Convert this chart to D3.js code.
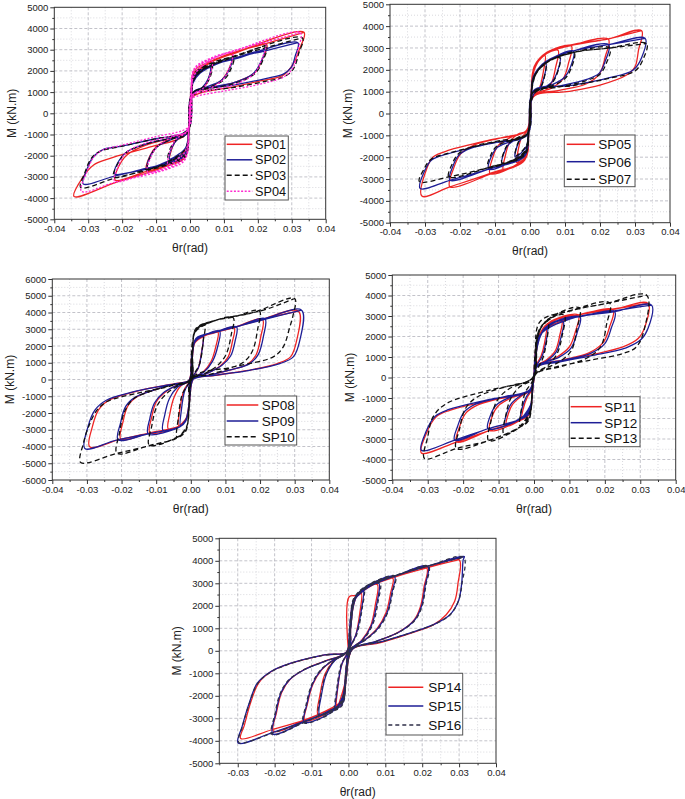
<!DOCTYPE html>
<html><head><meta charset="utf-8">
<script src="https://cdn.jsdelivr.net/npm/d3@7"></script>
<style>body{margin:0;background:#fff}svg{display:block}</style>
</head><body>
<svg id="chart" width="685" height="799"></svg>
<script>
// ---------------- DATA (θr in rad, M in kN.m) ----------------
const thetaTicks = [-0.04,-0.03,-0.02,-0.01,0,0.01,0.02,0.03,0.04];
const thetaTicks5 = [-0.03,-0.02,-0.01,0,0.01,0.02,0.03,0.04];
const mTicks5 = [-5000,-4000,-3000,-2000,-1000,0,1000,2000,3000,4000,5000];
const mTicks6 = [-6000,-5000,-4000,-3000,-2000,-1000,0,1000,2000,3000,4000,5000,6000];
const seriesNames = ["SP01","SP02","SP03","SP04","SP05","SP06","SP07","SP08","SP09","SP10","SP11","SP12","SP13","SP14","SP15","SP16"];

const sp01 = [[0,0],[.0008,1500],[.003,2050],[.0062,2350],[.0056,1700],[.004,1200],[.0008,900],[-.0003,-700],[-.0012,-1700],[-.0035,-2050],[-.006,-2250],[-.0054,-1700],[-.004,-1250],[-.0008,-900],[.0003,700],[.0012,1800],[.005,2300],
[.0125,2750],[.0115,2100],[.0095,1600],[.005,1150],[.001,950],[-.0003,-800],[-.0012,-1900],[-.005,-2300],[-.0128,-2650],[-.0118,-2000],[-.0098,-1550],[-.005,-1150],[-.001,-900],[.0003,800],[.0012,1900],[.006,2400],[.0125,2800],
[.0226,3250],[.0212,2500],[.019,1900],[.013,1450],[.005,1150],[.001,950],[-.0003,-800],[-.0012,-2000],[-.006,-2450],[-.013,-2750],[-.0221,-3150],[-.021,-2500],[-.0185,-1950],[-.013,-1500],[-.005,-1150],[-.001,-950],[.0003,800],[.0012,2000],[.006,2450],[.013,2850],
[.0336,3820],[.0322,3000],[.0305,2350],[.0275,1800],[.02,1500],[.0128,1250],[.003,950],[.0003,700],[-.0004,-900],[-.0015,-2100],[-.006,-2450],[-.0216,-3250],[-.0342,-3920],[-.0315,-3000],[-.0285,-2450],[-.024,-2150],[-.012,-1600],[-.002,-1100],[0,-600],[.0006,1200],[.0015,1900],[.009,2650],[.0226,3300],[.0336,3820]];

const sp02 = [[0,0],[.0008,1400],[.003,1900],[.006,2150],[.0053,1600],[.0035,1200],[.0008,950],[-.0003,-700],[-.0012,-1600],[-.0035,-1950],[-.006,-2150],[-.0053,-1600],[-.0035,-1200],[-.0008,-950],[.0003,700],[.0012,1600],[.005,2100],
[.0122,2500],[.0112,1950],[.0092,1550],[.005,1250],[.001,1000],[-.0003,-800],[-.0012,-1800],[-.005,-2150],[-.0125,-2550],[-.0115,-1950],[-.0095,-1550],[-.005,-1200],[-.001,-950],[.0003,800],[.0012,1750],[.006,2250],[.0122,2550],
[.0218,2920],[.0205,2300],[.0185,1850],[.013,1450],[.005,1200],[.001,1000],[-.0003,-800],[-.0012,-1900],[-.006,-2300],[-.013,-2600],[-.0222,-2850],[-.021,-2250],[-.0185,-1800],[-.013,-1450],[-.005,-1150],[-.001,-950],[.0003,800],[.0012,1800],[.006,2250],[.013,2550],
[.0318,3330],[.031,2700],[.0298,2150],[.0275,1850],[.0226,1650],[.0128,1330],[.003,1100],[.0003,800],[-.0004,-900],[-.0015,-2000],[-.006,-2350],[-.022,-2950],[-.0315,-3330],[-.0305,-2700],[-.0285,-2050],[-.0255,-1700],[-.02,-1550],[-.01,-1200],[-.002,-950],[0,-600],[.0006,1100],[.0015,1750],[.01,2450],[.0222,2950],[.0318,3330]];

const sp03 = [[0,0],[.0008,1450],[.003,1950],[.0065,2250],[.0058,1650],[.004,1250],[.0008,950],[-.0003,-750],[-.0012,-1650],[-.0035,-2000],[-.0065,-2250],[-.0058,-1650],[-.004,-1250],[-.0008,-950],[.0003,750],[.0012,1650],[.005,2150],
[.0128,2600],[.0118,2000],[.0098,1550],[.005,1200],[.001,1000],[-.0003,-800],[-.0012,-1850],[-.005,-2200],[-.0125,-2600],[-.0115,-2000],[-.0095,-1550],[-.005,-1200],[-.001,-950],[.0003,800],[.0012,1800],[.006,2300],[.0128,2650],
[.0225,3100],[.0212,2400],[.019,1850],[.013,1400],[.005,1150],[.001,1000],[-.0003,-800],[-.0012,-1950],[-.006,-2350],[-.013,-2650],[-.0225,-3000],[-.0212,-2350],[-.0188,-1850],[-.013,-1450],[-.005,-1150],[-.001,-950],[.0003,800],[.0012,1850],[.006,2350],[.013,2700],
[.0331,3560],[.032,2800],[.0305,2100],[.028,1750],[.022,1500],[.012,1200],[.003,1000],[.0003,750],[-.0004,-900],[-.0015,-2050],[-.006,-2400],[-.022,-3050],[-.0322,-3500],[-.031,-2800],[-.029,-2100],[-.0265,-1800],[-.02,-1550],[-.01,-1200],[-.002,-950],[0,-600],[.0006,1150],[.0015,1800],[.012,2600],[.0225,3100],[.0331,3560]];

const sp04 = [[0,0],[.0008,1600],[.003,2150],[.0065,2450],[.0058,1750],[.004,1200],[.0008,850],[-.0003,-700],[-.0012,-1750],[-.0035,-2150],[-.0065,-2400],[-.0058,-1750],[-.004,-1200],[-.0008,-850],[.0003,700],[.0012,1800],[.005,2400],
[.0125,2850],[.0115,2100],[.0095,1550],[.005,1100],[.001,900],[-.0003,-750],[-.0012,-1950],[-.005,-2400],[-.0125,-2750],[-.0115,-2050],[-.0095,-1550],[-.005,-1100],[-.001,-850],[.0003,750],[.0012,2000],[.006,2550],[.0125,2900],
[.0222,3300],[.021,2500],[.0188,1850],[.013,1350],[.005,1050],[.001,850],[-.0003,-750],[-.0012,-2050],[-.006,-2550],[-.013,-2850],[-.0222,-3200],[-.021,-2450],[-.0188,-1850],[-.013,-1400],[-.005,-1050],[-.001,-850],[.0003,750],[.0012,2100],[.006,2600],[.013,2950],
[.0325,3800],[.0318,3000],[.0305,2200],[.028,1750],[.02,1350],[.01,1050],[.002,800],[.0003,650],[-.0004,-850],[-.0015,-2200],[-.006,-2600],[-.022,-3250],[-.032,-3680],[-.0305,-2800],[-.0285,-2100],[-.026,-1750],[-.02,-1500],[-.01,-1100],[-.002,-800],[0,-550],[.0006,1250],[.0015,2100],[.01,2800],[.0222,3350],[.0325,3800]];

const sp05 = [[0,0],[.0008,1700],[.002,2300],[.0043,2650],[.0038,1900],[.0025,1100],[.0006,800],[-.0003,-600],[-.001,-1700],[-.0038,-2250],[-.0034,-1700],[-.0024,-1100],[-.0006,-750],[.0003,600],[.001,1900],[.0035,2600],
[.008,2900],[.0073,2100],[.006,1350],[.0035,950],[.0008,800],[-.0003,-650],[-.0012,-1950],[-.004,-2350],[-.0076,-2600],[-.007,-1900],[-.0058,-1300],[-.0035,-950],[-.0008,-780],[.0003,650],[.0012,2050],[.0045,2750],
[.0118,3100],[.011,2300],[.0095,1600],[.006,1150],[.001,850],[-.0003,-700],[-.0012,-2000],[-.005,-2450],[-.0114,-2750],[-.0106,-2000],[-.009,-1450],[-.005,-1050],[-.001,-800],[.0003,700],[.0012,2100],[.005,2780],[.0118,3120],
[.0224,3400],[.0215,2600],[.0198,1800],[.016,1350],[.008,1050],[.001,820],[-.0003,-700],[-.0015,-2130],[-.0114,-2780],[-.0229,-3350],[-.0218,-2500],[-.0198,-1850],[-.016,-1450],[-.008,-1100],[-.001,-780],[.0003,700],[.0012,2150],[.0048,2800],[.0114,3130],[.0224,3420],
[.0319,3790],[.031,2900],[.030,2140],[.0276,1760],[.02,1300],[.0105,1000],[.001,770],[-.0003,-650],[-.0019,-2130],[-.0114,-2740],[-.0229,-3360],[-.0309,-3780],[-.0293,-2440],[-.0276,-1980],[-.0229,-1670],[-.0114,-1210],[-.0009,-760],[.0003,600],[.001,2000],[.0048,2760],[.0114,3100],[.0224,3420],[.0319,3790]];

const sp06 = [[0,0],[.0008,1400],[.002,1950],[.0045,2300],[.004,1650],[.0027,1150],[.0006,950],[-.0003,-750],[-.001,-1500],[-.0042,-2000],[-.0037,-1500],[-.0025,-1150],[-.0006,-950],[.0003,750],[.001,1600],[.0035,2250],
[.0085,2600],[.0078,1900],[.0063,1450],[.0035,1150],[.0008,1000],[-.0003,-800],[-.0012,-1700],[-.004,-2100],[-.008,-2300],[-.0073,-1750],[-.006,-1400],[-.0035,-1150],[-.0008,-1000],[.0003,800],[.0012,1700],[.0045,2350],
[.0124,2850],[.0115,2100],[.0098,1650],[.006,1300],[.001,1050],[-.0003,-850],[-.0012,-1800],[-.005,-2200],[-.0118,-2550],[-.011,-1950],[-.0093,-1550],[-.005,-1250],[-.001,-1000],[.0003,850],[.0012,1750],[.005,2400],[.0124,2870],
[.0225,3150],[.0215,2400],[.0198,1850],[.016,1550],[.008,1250],[.001,1020],[-.0003,-850],[-.0015,-1950],[-.0114,-2520],[-.0229,-3050],[-.022,-2400],[-.0203,-1900],[-.017,-1600],[-.009,-1300],[-.001,-1000],[.0003,850],[.0012,1750],[.0045,2380],[.0124,2870],[.0225,3150],
[.0329,3440],[.032,2600],[.0295,1990],[.0219,1610],[.0124,1300],[.0016,1000],[-.0003,-800],[-.002,-1950],[-.0114,-2520],[-.0229,-3060],[-.0314,-3430],[-.030,-2590],[-.0281,-2130],[-.0229,-1820],[-.0114,-1370],[-.0009,-990],[.0003,800],[.001,1700],[.0045,2380],[.0124,2870],[.0225,3150],[.0329,3440]];

const sp07 = [[0,0],[.0008,1350],[.002,1900],[.0045,2250],[.004,1600],[.0027,1100],[.0006,900],[-.0003,-700],[-.001,-1450],[-.0042,-1950],[-.0037,-1450],[-.0025,-1100],[-.0006,-900],[.0003,700],[.001,1550],[.0035,2200],
[.0085,2550],[.0078,1850],[.0063,1400],[.0035,1100],[.0008,950],[-.0003,-750],[-.0012,-1650],[-.004,-2050],[-.008,-2250],[-.0073,-1700],[-.006,-1350],[-.0035,-1100],[-.0008,-950],[.0003,750],[.0012,1650],[.0045,2300],
[.0126,2780],[.0117,2050],[.01,1600],[.006,1250],[.001,1000],[-.0003,-800],[-.0012,-1750],[-.005,-2150],[-.012,-2450],[-.0112,-1900],[-.0095,-1500],[-.005,-1200],[-.001,-950],[.0003,800],[.0012,1700],[.005,2350],[.0126,2800],
[.0228,3000],[.0218,2300],[.02,1800],[.016,1500],[.008,1200],[.001,980],[-.0003,-800],[-.0015,-1900],[-.0114,-2450],[-.0232,-2900],[-.0222,-2300],[-.0205,-1850],[-.017,-1550],[-.009,-1250],[-.001,-970],[.0003,800],[.0012,1700],[.0045,2330],[.0126,2800],[.0228,3000],
[.0333,3200],[.0325,2550],[.030,1950],[.0222,1600],[.0124,1280],[.0016,980],[-.0003,-780],[-.002,-1900],[-.0114,-2450],[-.0232,-2900],[-.0316,-3120],[-.0303,-2550],[-.0283,-2100],[-.0229,-1800],[-.0114,-1350],[-.0009,-970],[.0003,780],[.001,1650],[.0045,2330],[.0126,2800],[.0228,3000],[.0333,3200]];

const sp08 = [[0,0],[.0005,1800],[.0015,2300],[.0035,2550],[.0031,1650],[.0021,650],[.0003,50],[-.0004,-1200],[-.0012,-2250],[-.0035,-2750],[-.0031,-1700],[-.002,-650],[-.0003,-50],[.0004,1200],[.0012,2200],[.004,2600],
[.0078,2850],[.0072,1950],[.0058,1050],[.0035,430],[.0005,50],[-.0004,-1300],[-.0015,-2400],[-.0035,-2800],[-.0065,-2950],[-.006,-2000],[-.0048,-1050],[-.003,-400],[-.0005,-50],[.0004,1300],[.0015,2350],[.007,2800],
[.0125,3100],[.012,2250],[.0108,1350],[.0085,800],[.0045,350],[.0008,50],[-.0004,-1300],[-.0015,-2450],[-.0035,-2800],[-.0118,-3180],[-.0113,-2250],[-.01,-1350],[-.0075,-780],[-.004,-330],[-.0005,-40],[.0004,1300],[.0015,2400],[.007,2800],[.0125,3100],
[.0207,3600],[.0202,2550],[.0188,1450],[.0163,900],[.0115,570],[.005,240],[0,0],[-.0004,-1300],[-.0015,-2450],[-.0035,-2800],[-.0118,-3180],[-.0202,-3560],[-.0196,-2550],[-.0181,-1550],[-.0153,-1000],[-.0105,-620],[-.005,-270],[0,0],[.0004,1300],[.0015,2400],[.007,2800],[.0125,3100],[.0207,3600],
[.0311,4080],[.0306,2350],[.0288,1350],[.025,950],[.0165,540],[.0072,250],[.0002,-30],[-.0004,-1300],[-.0015,-2450],[-.0035,-2800],[-.0118,-3180],[-.0205,-3580],[-.0292,-4020],[-.0284,-2800],[-.0266,-1800],[-.0235,-1220],[-.016,-720],[-.007,-330],[0,-30],[.0004,1300],[.0015,2400],[.007,2800],[.0125,3100],[.0207,3600],[.0311,4080]];

const sp09 = [[0,0],[.0005,1800],[.0015,2350],[.0035,2600],[.0032,1700],[.0022,700],[.0003,50],[-.0004,-1200],[-.0012,-2300],[-.003,-2750],[-.0027,-1800],[-.0018,-700],[-.0003,-50],[.0004,1200],[.0012,2250],[.004,2650],
[.0083,2900],[.0078,2000],[.0063,1100],[.0038,450],[.0005,50],[-.0004,-1300],[-.0015,-2450],[-.0032,-2830],[-.008,-3050],[-.0075,-2100],[-.0062,-1150],[-.0038,-450],[-.0005,-50],[.0004,1300],[.0015,2400],[.0074,2850],
[.0132,3140],[.0128,2300],[.0115,1400],[.009,850],[.005,400],[.0008,50],[-.0004,-1300],[-.0015,-2500],[-.0032,-2830],[-.0123,-3250],[-.0118,-2300],[-.0105,-1400],[-.008,-800],[-.004,-350],[-.0005,-40],[.0004,1300],[.0015,2450],[.0074,2850],[.0132,3140],
[.0214,3640],[.021,2600],[.0195,1500],[.017,950],[.012,600],[.005,250],[0,0],[-.0004,-1300],[-.0015,-2500],[-.0032,-2830],[-.0118,-3220],[-.021,-3600],[-.0203,-2600],[-.0188,-1600],[-.016,-1050],[-.011,-650],[-.005,-280],[0,0],[.0004,1300],[.0015,2450],[.0074,2850],[.0132,3150],[.0214,3640],
[.032,4140],[.0315,2350],[.0296,1350],[.0257,950],[.017,550],[.0074,260],[.0002,-40],[-.0004,-1300],[-.0015,-2500],[-.0032,-2830],[-.0118,-3220],[-.0215,-3620],[-.0306,-4120],[-.0297,-2830],[-.0277,-1830],[-.0244,-1240],[-.0167,-740],[-.007,-340],[0,-40],[.0004,1300],[.0015,2450],[.0074,2850],[.0132,3150],[.0219,3620],[.032,4140]];

const sp10 = [[0,0],[.0005,2300],[.0015,2900],[.004,3250],[.0036,2300],[.0025,900],[.0003,80],[-.0004,-1500],[-.0012,-2800],[-.004,-3450],[-.0036,-2300],[-.0025,-900],[-.0003,-80],[.0004,1500],[.0012,2800],[.0045,3300],
[.0122,3700],[.0117,2700],[.0102,1500],[.0078,850],[.004,350],[.0005,60],[-.0005,-1600],[-.0015,-3000],[-.0045,-3500],[-.012,-3920],[-.0113,-2800],[-.0098,-1600],[-.0073,-900],[-.0038,-380],[-.0004,-50],[.0005,1600],[.0015,2950],[.0074,3540],[.0122,3720],
[.0198,4100],[.0193,3000],[.0178,1700],[.0153,1050],[.011,650],[.005,280],[0,10],[-.0005,-1600],[-.0015,-3050],[-.0045,-3520],[-.0118,-3930],[-.0213,-4400],[-.0206,-3200],[-.0191,-1900],[-.0165,-1150],[-.0115,-700],[-.005,-300],[0,0],[.0005,1600],[.0015,3000],[.0074,3550],[.017,3940],[.0198,4120],
[.030,4840],[.0295,3800],[.0286,3140],[.0267,1950],[.0238,1350],[.0122,750],[.0007,155],[-.0005,-1600],[-.0015,-3100],[-.0045,-3550],[-.0118,-3950],[-.0215,-4420],[-.0318,-4950],[-.031,-3800],[-.0295,-2800],[-.027,-1800],[-.024,-1300],[-.015,-800],[-.006,-400],[0,0],[.0005,1700],[.0015,3050],[.0074,3550],[.017,3950],[.0219,4200],[.030,4840]];

const sp11 = [[0,0],[.0005,1400],[.0015,2100],[.0035,2550],[.003,1700],[.002,1050],[.0005,550],[-.0003,-450],[-.001,-1400],[-.0035,-2050],[-.003,-1500],[-.002,-1000],[-.0005,-550],[.0003,450],[.001,1600],[.003,2500],
[.0078,2850],[.0072,2000],[.006,1300],[.0035,850],[.0007,550],[-.0003,-500],[-.0012,-1600],[-.004,-2080],[-.0078,-2350],[-.0072,-1750],[-.006,-1300],[-.0035,-900],[-.0008,-600],[.0003,500],[.0012,1800],[.004,2650],
[.0125,3050],[.0117,2250],[.01,1500],[.0065,1000],[.0007,560],[-.0003,-550],[-.0014,-1700],[-.004,-2100],[-.0125,-2580],[-.0118,-1900],[-.0102,-1400],[-.0065,-1000],[-.0012,-620],[.0003,520],[.0014,1950],[.005,2750],[.0125,3060],
[.0223,3300],[.0213,2450],[.0195,1700],[.0155,1200],[.008,850],[.0007,540],[-.0003,-550],[-.0015,-1800],[-.004,-2100],[-.0125,-2580],[-.0219,-3140],[-.021,-2400],[-.0193,-1750],[-.016,-1350],[-.008,-950],[-.0012,-620],[.0003,520],[.0015,2050],[.006,2800],[.0125,3060],[.0223,3320],
[.0322,3610],[.0313,2470],[.0294,1900],[.0251,1490],[.0157,1090],[.0063,760],[.0007,520],[-.0003,-550],[-.0015,-1850],[-.004,-2100],[-.0125,-2580],[-.0219,-3150],[-.0318,-3680],[-.0304,-2730],[-.0276,-1920],[-.0238,-1600],[-.0125,-1110],[-.0012,-620],[.0003,500],[.0016,2100],[.011,2960],[.0204,3280],[.0322,3610]];

const sp12 = [[0,0],[.0005,1350],[.0015,2000],[.0038,2450],[.0033,1650],[.0022,1000],[.0005,500],[-.0003,-450],[-.001,-1350],[-.0038,-2000],[-.0033,-1450],[-.0022,-950],[-.0005,-500],[.0003,450],[.001,1550],[.003,2400],
[.0082,2750],[.0076,1950],[.0063,1250],[.0037,820],[.0007,520],[-.0003,-500],[-.0012,-1550],[-.004,-2000],[-.0082,-2300],[-.0076,-1700],[-.0063,-1250],[-.0037,-870],[-.0008,-580],[.0003,500],[.0012,1750],[.004,2550],
[.013,2950],[.0122,2200],[.0105,1450],[.007,980],[.0007,540],[-.0003,-530],[-.0014,-1650],[-.004,-2050],[-.013,-2500],[-.0123,-1850],[-.0107,-1350],[-.007,-980],[-.0012,-600],[.0003,500],[.0014,1900],[.005,2650],[.013,2970],
[.0228,3200],[.0218,2400],[.02,1650],[.016,1180],[.008,830],[.0007,520],[-.0003,-530],[-.0015,-1750],[-.004,-2050],[-.013,-2500],[-.0224,-3050],[-.0215,-2350],[-.0198,-1700],[-.0165,-1300],[-.008,-920],[-.0012,-600],[.0003,500],[.0015,2000],[.006,2700],[.013,2980],[.0228,3220],
[.0332,3530],[.0322,2400],[.0302,1850],[.026,1450],[.016,1060],[.0065,740],[.0007,500],[-.0003,-530],[-.0015,-1800],[-.004,-2050],[-.013,-2500],[-.0224,-3060],[-.0318,-3550],[-.0305,-2650],[-.0278,-1880],[-.024,-1560],[-.0128,-1080],[-.0012,-600],[.0003,480],[.0016,2050],[.011,2900],[.0208,3200],[.0332,3530]];

const sp13 = [[0,0],[.0005,1600],[.0015,2300],[.004,2750],[.0035,1700],[.0024,900],[.0005,250],[-.0003,-300],[-.001,-1600],[-.004,-2350],[-.0035,-1500],[-.0024,-700],[-.0005,-200],[.0003,300],[.001,1900],[.003,2700],
[.0085,3050],[.0079,2000],[.0065,1150],[.004,600],[.0007,220],[-.0003,-250],[-.0012,-1800],[-.004,-2420],[-.0085,-2750],[-.0079,-1800],[-.0065,-1000],[-.004,-450],[-.0008,-150],[.0003,250],[.0012,2100],[.004,2850],
[.0128,3400],[.0121,2350],[.0105,1300],[.007,750],[.0007,210],[-.0003,-250],[-.0014,-1950],[-.004,-2420],[-.0128,-3080],[-.0121,-2100],[-.0105,-1150],[-.007,-550],[-.0012,-140],[.0003,230],[.0014,2250],[.005,2950],[.011,3300],
[.0213,3650],[.0205,2600],[.0188,1500],[.015,950],[.008,550],[.0007,200],[-.0003,-250],[-.0015,-2050],[-.004,-2420],[-.0125,-3060],[-.0219,-3460],[-.021,-2500],[-.0193,-1500],[-.016,-950],[-.008,-450],[-.0012,-140],[.0003,230],[.0015,2350],[.006,3000],[.011,3300],[.0204,3610],
[.0318,4015],[.0313,2470],[.0289,1490],[.0251,1170],[.0157,840],[.0063,520],[.0007,200],[-.0003,-250],[-.0015,-2100],[-.004,-2420],[-.0125,-3060],[-.0219,-3460],[-.0309,-3950],[-.030,-2900],[-.0285,-1920],[-.0247,-1270],[-.0125,-620],[-.0012,-130],[.0003,220],[.0016,2700],[.011,3280],[.0204,3610],[.0318,4015]];

const sp14 = [[0,0],[.0002,2400],[.0025,2450],[.0035,2550],[.0031,1700],[.0019,650],[.0002,40],[-.0006,-1200],[-.0032,-2550],[-.0029,-1650],[-.0017,-560],[-.0002,-40],[.0006,1200],[.0015,2250],
[.0078,2950],[.0073,2050],[.006,1100],[.0035,450],[.0005,40],[-.0006,-1200],[-.0015,-2200],[-.004,-2600],[-.0082,-2850],[-.0077,-1950],[-.0064,-1050],[-.004,-450],[-.0004,-40],[.0006,1200],[.0018,2350],[.0048,2800],
[.012,3230],[.0114,2550],[.0102,1700],[.0078,1000],[.0044,480],[.001,80],[-.0006,-1000],[-.0015,-2100],[-.004,-2600],[-.0118,-3100],[-.0111,-2350],[-.0096,-1480],[-.0073,-860],[-.004,-400],[-.0005,-60],[.0006,1100],[.0018,2300],[.006,2900],[.012,3250],
[.0212,3680],[.0205,2850],[.0195,1950],[.0177,1350],[.0137,840],[.0073,400],[.001,50],[-.0006,-1000],[-.0018,-2350],[-.0065,-2720],[-.012,-3100],[-.0203,-3580],[-.0195,-2750],[-.0181,-1850],[-.0158,-1270],[-.0118,-820],[-.0064,-460],[-.0005,-50],[.0006,1100],[.002,2380],[.0048,2820],[.012,3260],[.0212,3690],
[.030,4050],[.0297,3000],[.0288,2200],[.0265,1600],[.023,1150],[.019,900],[.009,380],[.0003,30],[-.0005,-600],[-.0012,-1750],[-.002,-2250],[-.0065,-2700],[-.012,-3080],[-.021,-3520],[-.0292,-3900],[-.0282,-3300],[-.0265,-2300],[-.0243,-1420],[-.0207,-900],[-.0153,-540],[-.0064,-180],[0,-30],[.0006,1000],[.0015,2100],[.003,2600],[.012,3250],[.021,3680],[.030,4050]];

const sp15 = [[0,0],[.0006,1500],[.0015,2300],[.004,2700],[.0035,1800],[.002,700],[.0002,50],[-.0008,-1200],[-.0015,-2100],[-.0035,-2600],[-.003,-1700],[-.0018,-600],[-.0002,-50],[.0008,1300],[.0018,2300],
[.0082,3000],[.0077,2100],[.0063,1150],[.0037,460],[.0005,40],[-.0006,-1200],[-.0016,-2250],[-.0045,-2650],[-.0078,-2850],[-.0073,-1950],[-.006,-1050],[-.0037,-430],[-.0004,-40],[.0006,1200],[.0018,2350],[.0048,2860],
[.0125,3300],[.0118,2600],[.0105,1700],[.008,1000],[.0045,480],[.001,80],[-.0006,-900],[-.0015,-2000],[-.004,-2650],[-.012,-3170],[-.0113,-2400],[-.0098,-1500],[-.0075,-870],[-.004,-400],[-.0005,-60],[.0006,1000],[.0018,2300],[.006,2950],[.0125,3320],
[.0215,3750],[.0208,2900],[.0198,1980],[.018,1380],[.014,860],[.0075,420],[.001,60],[-.0006,-1000],[-.0018,-2400],[-.0065,-2780],[-.012,-3160],[-.0205,-3700],[-.0197,-2780],[-.0183,-1880],[-.016,-1290],[-.012,-840],[-.0065,-470],[-.0005,-50],[.0006,1100],[.002,2400],[.0048,2860],[.0121,3300],[.0215,3760],
[.0314,4190],[.0311,4040],[.0307,3000],[.0298,2200],[.0275,1600],[.0239,1230],[.0198,960],[.0093,420],[.0003,40],[-.0005,-600],[-.0012,-1800],[-.002,-2330],[-.0065,-2770],[-.012,-3140],[-.021,-3660],[-.0299,-4100],[-.0288,-3360],[-.0269,-2330],[-.0247,-1440],[-.021,-920],[-.0156,-550],[-.0065,-180],[0,-30],[.0006,1000],[.0015,2100],[.003,2600],[.0121,3300],[.0211,3750],[.0314,4190]];

const sp16 = [[0,0],[.0006,1550],[.0015,2350],[.0042,2750],[.0037,1850],[.0022,700],[.0002,50],[-.0008,-1250],[-.0015,-2150],[-.0037,-2650],[-.0032,-1750],[-.002,-620],[-.0002,-50],[.0008,1350],[.0018,2350],
[.0085,3020],[.008,2150],[.0066,1180],[.0039,470],[.0005,40],[-.0006,-1250],[-.0016,-2300],[-.0045,-2680],[-.008,-2880],[-.0075,-1980],[-.0062,-1080],[-.0039,-440],[-.0004,-40],[.0006,1250],[.0018,2400],[.0048,2880],
[.0127,3320],[.012,2620],[.0107,1720],[.0082,1000],[.0046,480],[.001,80],[-.0006,-950],[-.0015,-2050],[-.004,-2680],[-.0122,-3200],[-.0115,-2420],[-.01,-1520],[-.0077,-880],[-.0041,-410],[-.0005,-60],[.0006,1050],[.0018,2350],[.006,2970],[.0127,3330],
[.0217,3760],[.021,2920],[.02,2000],[.0182,1390],[.0142,870],[.0076,420],[.001,60],[-.0006,-1050],[-.0018,-2450],[-.0065,-2800],[-.012,-3180],[-.0207,-3720],[-.0199,-2800],[-.0185,-1900],[-.0162,-1300],[-.0122,-850],[-.0066,-480],[-.0005,-50],[.0006,1150],[.002,2430],[.0048,2880],[.0121,3310],[.0217,3770],
[.0312,4150],[.0308,3000],[.0299,2250],[.0277,1620],[.0241,1240],[.02,970],[.0094,420],[.0003,40],[-.0005,-620],[-.0012,-1850],[-.002,-2350],[-.0065,-2790],[-.012,-3160],[-.021,-3680],[-.0297,-4080],[-.0287,-3350],[-.0268,-2320],[-.0246,-1450],[-.0209,-930],[-.0155,-560],[-.0065,-190],[0,-30],[.0006,1050],[.0015,2150],[.003,2620],[.0121,3310],[.0212,3760],[.0312,4150]];

const seriesValues = [sp01,sp02,sp03,sp04,sp05,sp06,sp07,sp08,sp09,sp10,sp11,sp12,sp13,sp14,sp15,sp16];
const panelMembers = [["SP01","SP02","SP03","SP04"],["SP05","SP06","SP07"],["SP08","SP09","SP10"],["SP11","SP12","SP13"],["SP14","SP15","SP16"]];

// ---------------- STYLE / LAYOUT ----------------
const RED="#ee2424", NAVY="#1e1e96", BLACK="#111111", PINK="#ff2bd0", SLATE="#2f2f48";
const styleOf = {
  SP01:{c:RED},SP02:{c:NAVY},SP03:{c:BLACK,d:"5,3"},SP04:{c:PINK,d:"2,1.6"},
  SP05:{c:RED},SP06:{c:NAVY},SP07:{c:BLACK,d:"5,3"},
  SP08:{c:RED},SP09:{c:NAVY},SP10:{c:BLACK,d:"5,3"},
  SP11:{c:RED},SP12:{c:NAVY},SP13:{c:BLACK,d:"5,3"},
  SP14:{c:RED},SP15:{c:NAVY},SP16:{c:SLATE,d:"4,3"}
};
const panels = [
 {x0:54.3,x1:325.7,y0:7.3,y1:219.3,xd:[-0.04,0.04],yd:[-5000,5000],xt:thetaTicks,yt:mTicks5,
  lg:{x:225,y:136,w:63.3,h:64,ys:[8.3,23.8,39.3,55.3],l0:1.7,l1:27.3,tx:30,fs:12.7}},
 {x0:390,x1:670,y0:4.3,y1:222.7,xd:[-0.04,0.04],yd:[-5000,5000],xt:thetaTicks,yt:mTicks5,
  lg:{x:564.3,y:135,w:70.7,h:51.7,ys:[9.3,26.7,44.3],l0:2.4,l1:30.7,tx:34,fs:13.5}},
 {x0:52.3,x1:329.3,y0:279,y1:480,xd:[-0.04,0.04],yd:[-6000,6000],xt:thetaTicks,yt:mTicks6,
  lg:{x:225,y:396,w:71.7,h:49,ys:[9,25,40.7],l0:1.7,l1:33.3,tx:36.7,fs:13.5}},
 {x0:392.3,x1:675.7,y0:275,y1:480,xd:[-0.04,0.04],yd:[-5000,5000],xt:thetaTicks,yt:mTicks5,
  lg:{x:569.3,y:396.7,w:70.7,h:50,ys:[10,26,41.6],l0:1.4,l1:32.4,tx:35,fs:13.5}},
 {x0:219.3,x1:496,y0:538.3,y1:763.3,xd:[-0.035,0.04],yd:[-5000,5000],xt:thetaTicks5,yt:mTicks5,
  lg:{x:386,y:673.3,w:76.7,h:61.7,ys:[14,32.7,51.7],l0:2.3,l1:37.3,tx:42.3,fs:13.5}}
];
const FONT = "'Liberation Sans', Arial, Helvetica, sans-serif";
const fixMinus = s => s.replace(/\u2212/g,"-");
const fmtX = d => fixMinus(d3.format(".2f")(d));
const fmtY = d => fixMinus(d3.format("d")(d));

const svg = d3.select("#chart");
svg.append("rect").attr("width",685).attr("height",799).attr("fill","#fff");

panels.forEach((p,pi)=>{
  const x = d3.scaleLinear().domain(p.xd).range([p.x0,p.x1]);
  const y = d3.scaleLinear().domain(p.yd).range([p.y1,p.y0]);
  const g = svg.append("g");
  const xMinor = d3.range(Math.round(p.xd[0]*200), Math.round(p.xd[1]*200)+1).map(v=>v/200).filter(v=>!p.xt.some(t=>Math.abs(t-v)<1e-9));
  const yMinor = d3.range(p.yd[0]/500, p.yd[1]/500+1).map(v=>v*500).filter(v=>v%1000!==0);
  const inX = v => x(v)>p.x0+0.5 && x(v)<p.x1-0.5;
  const inY = v => y(v)<p.y1-0.5 && y(v)>p.y0+0.5;
  // grid
  const gg = g.append("g");
  gg.selectAll(".vmi").data(xMinor.filter(inX)).join("line").attr("x1",d=>x(d)).attr("x2",d=>x(d)).attr("y1",p.y0).attr("y2",p.y1)
    .attr("stroke","#cfcfd6").attr("stroke-width",0.8).attr("stroke-dasharray","1,2");
  gg.selectAll(".hmi").data(yMinor.filter(inY)).join("line").attr("y1",d=>y(d)).attr("y2",d=>y(d)).attr("x1",p.x0).attr("x2",p.x1)
    .attr("stroke","#cfcfd6").attr("stroke-width",0.8).attr("stroke-dasharray","1,2");
  gg.selectAll(".vma").data(p.xt.filter(inX)).join("line").attr("x1",d=>x(d)).attr("x2",d=>x(d)).attr("y1",p.y0).attr("y2",p.y1)
    .attr("stroke","#b4b4bc").attr("stroke-width",0.8).attr("stroke-dasharray","3,2");
  gg.selectAll(".hma").data(p.yt.filter(inY)).join("line").attr("y1",d=>y(d)).attr("y2",d=>y(d)).attr("x1",p.x0).attr("x2",p.x1)
    .attr("stroke","#b4b4bc").attr("stroke-width",0.8).attr("stroke-dasharray","3,2");

  // curves
  const clipId = "clip"+pi;
  svg.append("clipPath").attr("id",clipId).append("rect").attr("x",p.x0).attr("y",p.y0).attr("width",p.x1-p.x0).attr("height",p.y1-p.y0);
  const line = d3.line().x(d=>x(d[0])).y(d=>y(d[1])).curve(d3.curveCatmullRom.alpha(0.5));
  const cg = g.append("g").attr("clip-path",`url(#${clipId})`);
  panelMembers[pi].forEach(name=>{
    const st = styleOf[name];
    cg.append("path").datum(seriesValues[seriesNames.indexOf(name)])
      .attr("d",line).attr("fill","none").attr("stroke",st.c)
      .attr("stroke-width",1.3).attr("stroke-dasharray",st.d||null).attr("stroke-linejoin","round");
  });

  // axes
  const ax = g.append("g").attr("transform",`translate(0,${p.y1})`)
    .call(d3.axisBottom(x).tickValues(p.xt).tickFormat(fmtX).tickSize(4).tickSizeOuter(0).tickPadding(2));
  const axm = g.append("g").attr("transform",`translate(0,${p.y1})`)
    .call(d3.axisBottom(x).tickValues(xMinor).tickFormat("").tickSize(2).tickSizeOuter(0));
  const ay = g.append("g").attr("transform",`translate(${p.x0},0)`)
    .call(d3.axisLeft(y).tickValues(p.yt).tickFormat(fmtY).tickSize(4).tickSizeOuter(0).tickPadding(2));
  const aym = g.append("g").attr("transform",`translate(${p.x0},0)`)
    .call(d3.axisLeft(y).tickValues(yMinor).tickFormat("").tickSize(2).tickSizeOuter(0));
  [ax,axm,ay,aym].forEach(a=>{
    a.select(".domain").remove();
    a.selectAll("line").attr("stroke","#333");
    a.selectAll("text").attr("font-family",FONT).attr("font-size",9.5).attr("fill","#222");
  });
  // frame
  g.append("rect").attr("x",p.x0).attr("y",p.y0).attr("width",p.x1-p.x0).attr("height",p.y1-p.y0)
    .attr("fill","none").attr("stroke","#333").attr("stroke-width",1);

  // titles
  g.append("text").attr("x",(p.x0+p.x1)/2).attr("y",p.y1+32.5).attr("text-anchor","middle")
    .attr("font-family",FONT).attr("font-size",12).attr("fill","#222").text("θr(rad)");
  g.append("text").attr("transform",`translate(${p.x0-38.5},${(p.y0+p.y1)/2}) rotate(-90)`).attr("text-anchor","middle")
    .attr("font-family",FONT).attr("font-size",12).attr("fill","#222").text("M (kN.m)");

  // legend
  const L = p.lg;
  const lg = g.append("g").attr("transform",`translate(${L.x},${L.y})`);
  lg.append("rect").attr("width",L.w).attr("height",L.h).attr("fill","#fff").attr("stroke","#555").attr("stroke-width",1);
  panelMembers[pi].forEach((name,i)=>{
    const st = styleOf[name];
    lg.append("line").attr("x1",L.l0).attr("x2",L.l1).attr("y1",L.ys[i]).attr("y2",L.ys[i])
      .attr("stroke",st.c).attr("stroke-width",1.5).attr("stroke-dasharray",st.d||null);
    lg.append("text").attr("x",L.tx).attr("y",L.ys[i]).attr("dy","0.36em")
      .attr("font-family",FONT).attr("font-size",L.fs).attr("fill","#111").text(name);
  });
});
</script>
</body></html>
